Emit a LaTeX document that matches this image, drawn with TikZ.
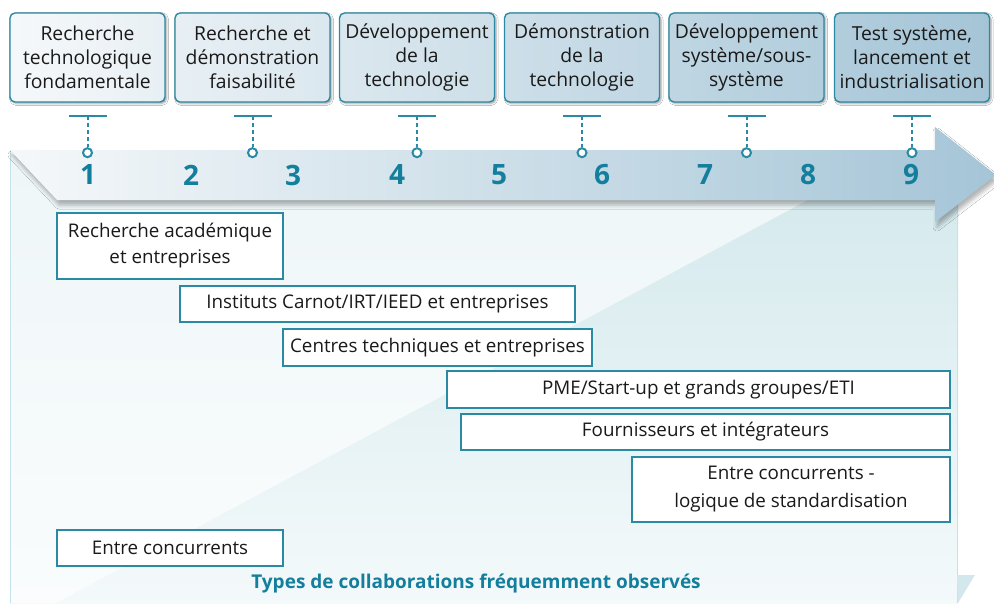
\documentclass[tikz,border=0pt]{standalone}
\usepackage{fontspec}
\setmainfont{Open Sans}
\usetikzlibrary{shadows.blur}
\definecolor{teal1}{HTML}{2A8AA3}
\definecolor{numc}{HTML}{137F9C}
\definecolor{arrL}{HTML}{F5F8FA}
\definecolor{arrR}{HTML}{A5C5D7}
\definecolor{panTeal}{HTML}{D2E8EC}
\definecolor{panLight}{HTML}{EEF6F8}
\definecolor{panEdge}{HTML}{C4E2E8}
\definecolor{txt}{HTML}{1A1A1A}
\tikzset{
  topbox/.style={draw=teal1, line width=1.4pt, rounded corners=5pt,
    minimum width=155pt, minimum height=89pt, inner sep=0pt, align=center,
    font=\fontsize{19.3}{24}\selectfont, text=txt,
    blur shadow={shadow xshift=1.5pt, shadow yshift=-1.5pt, shadow blur radius=2pt, shadow opacity=40}},
  collab/.style={draw=teal1, line width=1.4pt, fill=white, inner sep=0pt,
    align=center, font=\fontsize{18.8}{26}\selectfont, text=txt},
  num/.style={text=numc, font=\fontsize{28}{30}\selectfont\bfseries, inner sep=0pt},
  ttl/.style={text=numc, font=\fontsize{19}{22}\selectfont\bfseries, inner sep=0pt},
  tickln/.style={teal1, line width=2pt},
  dot/.style={circle, draw=teal1, line width=2pt, fill=white, minimum size=9pt, inner sep=0pt}
}
\begin{document}
\begin{tikzpicture}[x=1pt,y=-1pt]
\useasboundingbox (0,0) rectangle (994,603);
\fill[white] (0,0) rectangle (994,603);
% panel
\shade[top color=panTeal, bottom color=white!75!panTeal] (10,150) rectangle (958,603);
\shade[top color=panLight, bottom color=white!70!panLight] (10,150) -- (901,150) -- (56,603) -- (10,603) -- cycle;
\draw[panEdge, line width=1pt] (10.5,150) -- (10.5,603);
\draw[panEdge, line width=1pt] (957.5,150) -- (957.5,603);
\fill[panTeal] (957,575) -- (975,575) -- (958,603) -- cycle;
% arrow
\shade[left color=arrL, right color=arrR,
  blur shadow={shadow xshift=2pt, shadow yshift=-5pt, shadow blur radius=4pt, shadow opacity=30}]
  (10,150) -- (935,150) -- (935,127) -- (996,175) -- (935,222) -- (935,200) -- (57,200) -- cycle;
% top boxes
\node[topbox, left color=arrR!0!arrL, right color=arrR!16!arrL] (b1) at (87.5,57.5) {Recherche\\technologique\\fondamentale};
\node[topbox, left color=arrR!17!arrL, right color=arrR!32!arrL] (b2) at (252.5,57.5) {Recherche et\\démonstration\\faisabilité};
\node[topbox, left color=arrR!33!arrL, right color=arrR!49!arrL] (b3) at (417,57.5) {Développement\\de la\\technologie};
\node[topbox, left color=arrR!50!arrL, right color=arrR!66!arrL] (b4) at (582,57.5) {Démonstration\\de la\\technologie};
\node[topbox, left color=arrR!67!arrL, right color=arrR!83!arrL] (b5) at (746.5,57.5) {Développement\\système/sous-\\système};
\node[topbox, left color=arrR!84!arrL, right color=arrR!100!arrL] (b6) at (912,57.5) {Test système,\\lancement et\\industrialisation};
% ticks
\foreach \i in {1,...,6}{
  \path (b\i.south) ++(0,13) coordinate (h\i) ++(0,37) coordinate (c\i);
  \draw[tickln] (h\i) ++(-19,0) -- ++(38,0);
  \node[dot] (d\i) at (c\i) {};
  \draw[tickln, dash pattern=on 4pt off 3pt] (h\i) -- (d\i.north);
}
% numbers
\node[num] (n1) at (88,175) {1};
\node[num] (n2) at (191,175) {2};
\node[num] (n3) at (293,175) {3};
\node[num] (n4) at (397,175) {4};
\node[num] (n5) at (499,175) {5};
\node[num] (n6) at (602,175) {6};
\node[num] (n7) at (705,175) {7};
\node[num] (n8) at (808,175) {8};
\node[num] (n9) at (911,175) {9};
% collaboration boxes
\node[collab, minimum width=226pt, minimum height=66pt] (rech) at (170,246) {Recherche académique\\et entreprises};
\node[collab, minimum width=395pt, minimum height=36pt] (inst) at (377.5,304) {Instituts Carnot/IRT/IEED et entreprises};
\node[collab, minimum width=309pt, minimum height=37pt] (cent) at (437.5,347.5) {Centres techniques et entreprises};
\node[collab, minimum width=503pt, minimum height=37pt] (pme) at (698.5,389.5) {PME/Start-up et grands groupes/ETI};
\node[collab, minimum width=489pt, minimum height=36pt] (four) at (705.5,432) {Fournisseurs et intégrateurs};
\node[collab, minimum width=318pt, minimum height=65pt, font=\fontsize{18.8}{28}\selectfont] (conc2) at (791,489.5) {Entre concurrents -\\logique de standardisation};
\node[collab, minimum width=226pt, minimum height=36pt] (conc) at (170,548) {Entre concurrents};
% title
\node[ttl] (title) at (476,583) {Types de collaborations fréquemment observés};
\end{tikzpicture}
\end{document}
